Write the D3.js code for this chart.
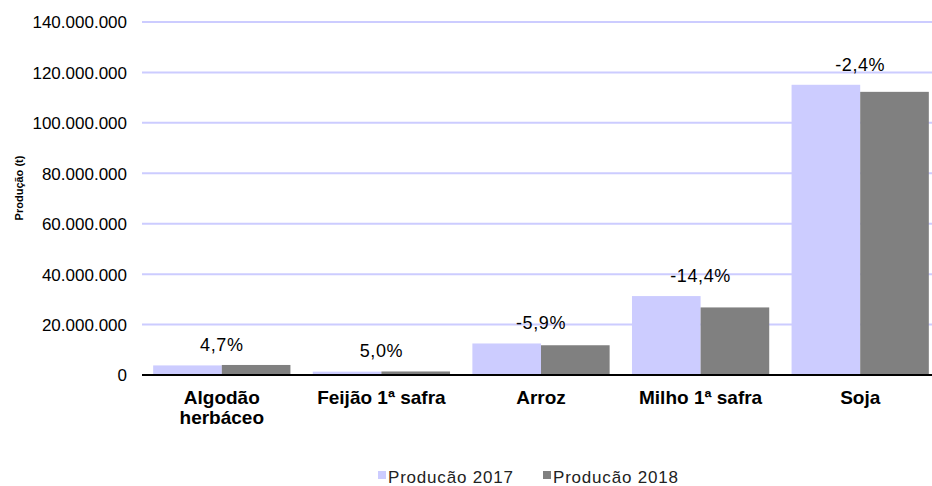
<!DOCTYPE html>
<html><head><meta charset="utf-8">
<script src="https://cdn.jsdelivr.net/npm/d3@7"></script>
<style>body{margin:0;background:#fff}svg{display:block}text{font-family:"Liberation Sans",Arial,sans-serif}</style>
</head><body>
<svg id="c" width="932" height="486"></svg>
<script>
const categories = [["Algodão","herbáceo"],["Feijão 1ª safra"],["Arroz"],["Milho 1ª safra"],["Soja"]];
const series = ["Producão 2017","Producão 2018"];
const prod2017 = [3800000, 1330000, 12500000, 31300000, 115100000];
const prod2018 = [3980000, 1400000, 11800000, 26800000, 112300000];
const changeLabels = ["4,7%","5,0%","-5,9%","-14,4%","-2,4%"];
const yTicks = [0,20000000,40000000,60000000,80000000,100000000,120000000,140000000];
const colors = ["#ccccff","#808080"];

const svg = d3.select("#c");
const catKeys = categories.map(c=>c.join(" "));
const x0 = d3.scaleBand().domain(catKeys).range([142,940]).paddingInner(0.14).paddingOuter(0.07);
const x1 = d3.scaleBand().domain(series).range([0,x0.bandwidth()]).padding(0);
const y = d3.scaleLinear().domain([0,140000000]).range([375,22]);
const fmt = v => d3.format(",")(v).replace(/,/g,".");

// gridlines
svg.append("g").selectAll("line").data(yTicks.filter(t=>t>0)).join("line")
  .attr("x1",142).attr("x2",932).attr("y1",d=>y(d)).attr("y2",d=>y(d))
  .attr("stroke","#ccccff").attr("stroke-width",2);

// y axis labels
const yAxis = d3.axisLeft(y).tickValues(yTicks).tickFormat(fmt).tickSize(0).tickPadding(0);
const ga = svg.append("g").attr("transform","translate(127,0)").call(yAxis);
ga.select(".domain").remove();
ga.selectAll("text").attr("font-size","17px").attr("fill","#000").attr("dy","0.35em")
  .attr("font-family","'Liberation Sans',Arial,sans-serif");

// bars
const data = catKeys.map((k,i)=>({k, vals:[prod2017[i],prod2018[i]], lab:changeLabels[i], lines:categories[i]}));
const groups = svg.append("g").selectAll("g").data(data).join("g")
  .attr("transform",d=>`translate(${x0(d.k)},0)`);
groups.selectAll("rect").data(d=>d.vals.map((v,j)=>({s:series[j],v,j}))).join("rect")
  .attr("x",d=>x1(d.s)).attr("width",x1.bandwidth())
  .attr("y",d=>y(d.v)).attr("height",d=>y(0)-y(d.v)).attr("fill",d=>colors[d.j]);

// change labels
groups.append("text").attr("x",x0.bandwidth()/2).attr("y",d=>y(d3.max(d.vals))-14)
  .attr("text-anchor","middle").attr("font-size","18px").attr("letter-spacing","0.6px").text(d=>d.lab);

// axis line
svg.append("line").attr("x1",142).attr("x2",932).attr("y1",y(0)).attr("y2",y(0))
  .attr("stroke","#000").attr("stroke-width",2);

// category labels
groups.append("text").attr("text-anchor","middle").attr("font-size","19px").attr("font-weight","bold")
  .selectAll("tspan").data(d=>d.lines).join("tspan")
  .attr("x",x0.bandwidth()/2).attr("y",(d,i)=>404+i*20).text(d=>d);

// y title
svg.append("text").attr("transform","translate(23,188) rotate(-90)").attr("text-anchor","middle")
  .attr("font-size","11px").attr("font-weight","bold").text("Produção (t)");

// legend
const legX = [378,543];
const lg = svg.append("g").selectAll("g").data(series).join("g")
  .attr("transform",(d,i)=>`translate(${legX[i]},0)`);
lg.append("rect").attr("x",0).attr("y",471).attr("width",8).attr("height",8).attr("fill",(d,i)=>colors[i]);
lg.append("text").attr("x",10).attr("y",483).attr("font-size","17px").attr("letter-spacing","0.8px")
  .attr("fill","#222").text(d=>d);
</script>
</body></html>
